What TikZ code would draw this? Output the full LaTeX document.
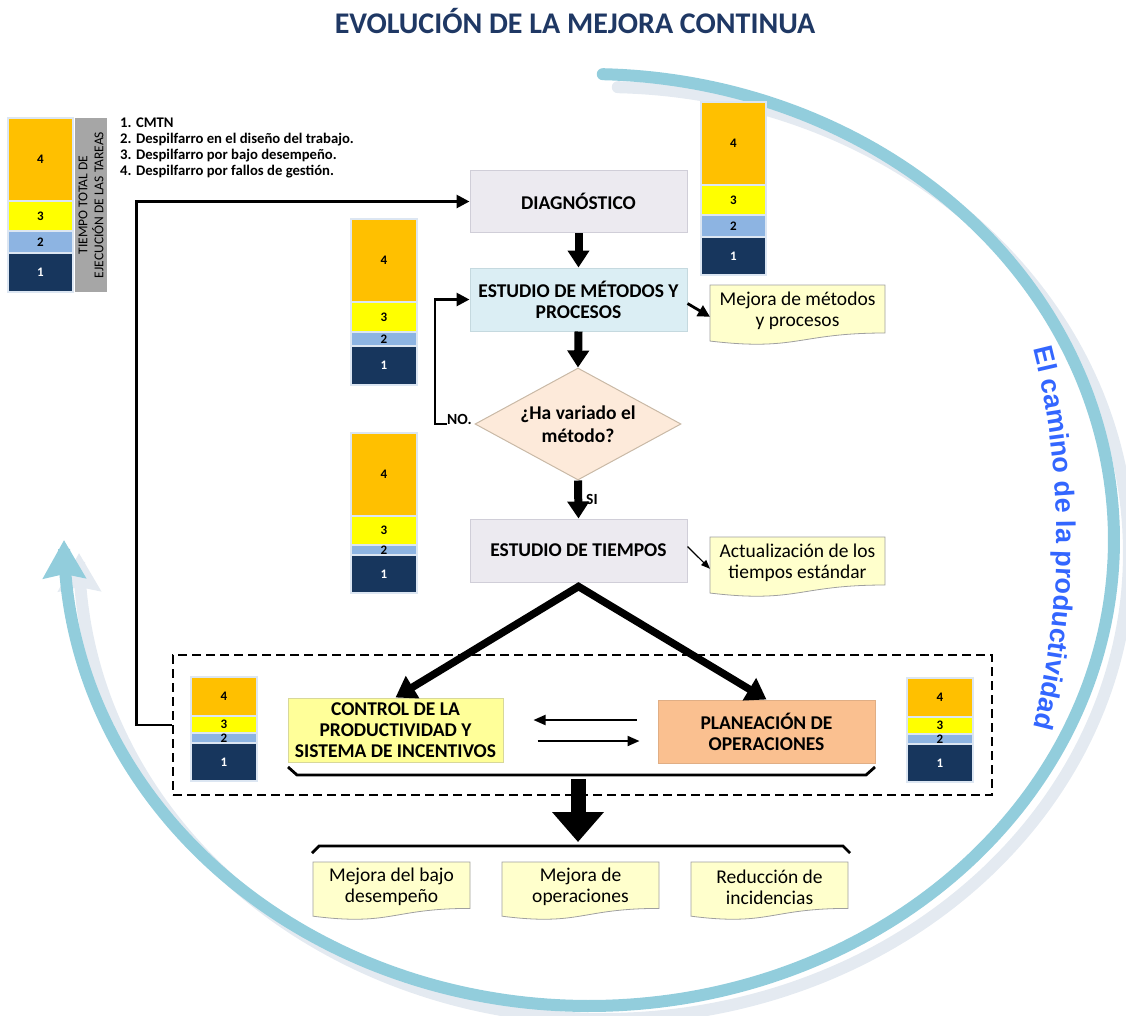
\documentclass[tikz,border=0pt]{standalone}
\usepackage{fontspec}
\setmainfont{Carlito}
\newfontfamily\arcfam{Liberation Sans}
\usetikzlibrary{arrows.meta,shapes.geometric,decorations.text,calc}

\definecolor{c4}{HTML}{FFC000}
\definecolor{c3}{HTML}{FFFF00}
\definecolor{c2}{HTML}{8DB4E2}
\definecolor{c1}{HTML}{17365D}
\definecolor{stkedge}{HTML}{DCE6F2}
\definecolor{titleblue}{HTML}{1F3864}
\definecolor{arcblue}{HTML}{92CDDC}
\definecolor{arcshadow}{HTML}{E4EAF1}
\definecolor{arctext}{HTML}{3366FF}
\definecolor{grayfill}{HTML}{ECEAF0}
\definecolor{grayedge}{HTML}{D0CED8}
\definecolor{metfill}{HTML}{DBEEF4}
\definecolor{metedge}{HTML}{C5D9DF}
\definecolor{diafill}{HTML}{FDEADA}
\definecolor{diaedge}{HTML}{C9B9A6}
\definecolor{ctrlfill}{HTML}{FFFF99}
\definecolor{ctrledge}{HTML}{D8D89A}
\definecolor{planfill}{HTML}{FAC090}
\definecolor{planedge}{HTML}{E0AE85}
\definecolor{docfill}{HTML}{FFFFCC}
\definecolor{docedge}{HTML}{A0A0A0}
\definecolor{barfill}{HTML}{A6A6A6}

\newcommand{\arcstyle}{\arcfam\bfseries\fontsize{27}{27}\selectfont}

% stack of four blocks: name, x1, x2, y-top, y(4|3), y(3|2), y(2|1), y-bottom
\newcommand{\stk}[8]{%
  \filldraw[fill=c4, draw=stkedge, line width=1.3pt] (#2,#4) rectangle (#3,#5);
  \filldraw[fill=c3, draw=stkedge, line width=1.3pt] (#2,#5) rectangle (#3,#6);
  \filldraw[fill=c2, draw=stkedge, line width=1.3pt] (#2,#6) rectangle (#3,#7);
  \filldraw[fill=c1, draw=stkedge, line width=1.3pt] (#2,#7) rectangle (#3,#8);
  \node[stknum] (#1-4) at ({(#2+#3)/2},{(#4+#5)/2}) {4};
  \node[stknum] (#1-3) at ({(#2+#3)/2},{(#5+#6)/2}) {3};
  \node[stknum] (#1-2) at ({(#2+#3)/2},{(#6+#7)/2}) {2};
  \node[stknum, text=white] (#1-1) at ({(#2+#3)/2},{(#7+#8)/2}) {1};
}

% document shape: name, x, y, w, h, text
\newcommand{\docshape}[6]{%
  \filldraw[docstyle] (#2,#3) -- ({#2+#4},#3) -- ({#2+#4},{#3+0.80*#5})
     .. controls ({#2+0.5*#4},{#3+0.80*#5}) and ({#2+0.5*#4},{#3+1.107*#5}) .. (#2,{#3+0.934*#5}) -- cycle;
  \coordinate (#1-w) at (#2,{#3+0.53*#5});
  \node[doctext] (#1) at ({#2+0.5*#4},{#3+0.43*#5}) {#6};
}

\begin{document}
\begin{tikzpicture}[x=1pt,y=-1pt,
  stknum/.style={font=\bfseries\fontsize{13}{13}\selectfont, inner sep=0pt},
  proc/.style={rectangle, inner sep=0pt, align=center, line width=1pt,
               font=\bfseries\fontsize{19.5}{21}\selectfont},
  doctext/.style={align=center, inner sep=0pt, font=\fontsize{19.5}{21}\selectfont},
  docstyle/.style={fill=docfill, draw=docedge, line width=0.8pt},
  blockarrow/.style={line width=8pt, -{Triangle[width=21pt,length=17pt]}},
  splitarrow/.style={line width=7.5pt, line join=miter,
               {Triangle[width=25pt,length=20pt]}-{Triangle[width=25pt,length=20pt]}},
  hugearrow/.style={line width=15pt, -{Triangle[width=50pt,length=30pt]}},
  thinline/.style={line width=2.8pt, -{Triangle[width=13pt,length=13pt]}},
  midarrow/.style={line width=2.8pt, -{Triangle[width=12pt,length=12pt]}},
  swaparrow/.style={line width=2pt, -{Triangle[width=10pt,length=12pt]}},
  fineline/.style={line width=1.2pt, -{Triangle[width=7pt,length=9pt]}},
  bracket/.style={line width=2.8pt, line join=miter},
  labelfont/.style={font=\bfseries\fontsize{15.5}{16}\selectfont, inner sep=0pt},
  legfont/.style={anchor=base west, inner sep=0pt, font=\bfseries\fontsize{14.7}{16}\selectfont}
]
\useasboundingbox (0,0) rectangle (1126,1015);

% ---- big circular arrow with its shadow ----
\draw[arcshadow, line width=12pt, line cap=round, -{Stealth[width=42pt,length=38pt,inset=4pt]}]
  plot[domain=-88.5:180, samples=240, variable=\t] ({604+525*cos(\t)},{553+466*sin(\t)});
\draw[arcblue, line width=12pt, line cap=round, -{Stealth[width=42pt,length=38pt,inset=4pt]}]
  plot[domain=-88.5:180, samples=240, variable=\t] ({589+525*cos(\t)},{540+466*sin(\t)});
\path[decorate, decoration={text along path, text={|\arcstyle|El camino de la productividad},
      text align=center, text color=arctext}]
  plot[domain=-24:24, samples=90, variable=\t] ({589+468*cos(\t)},{538+600*sin(\t)});

% ---- title ----
\node[anchor=base, inner sep=0pt, text=titleblue, font=\bfseries\fontsize{30}{30}\selectfont]
  (title) at (575,33.5) {EVOLUCIÓN DE LA MEJORA CONTINUA};

% ---- legend ----
\stk{leg}{8}{73}{118}{201}{231}{253}{292}
\fill[barfill] (75,118) rectangle (107,292);
\node[rotate=90, align=center, inner sep=0pt, font=\fontsize{13.5}{16}\selectfont]
  (bartext) at (91,205) {TIEMPO TOTAL DE\\EJECUCIÓN DE LAS TAREAS};
\node[legfont] (leg1) at (120,127) {1. CMTN};
\node[legfont] (leg2) at (120,143) {2. Despilfarro en el diseño del trabajo.};
\node[legfont] (leg3) at (120,159) {3. Despilfarro por bajo desempeño.};
\node[legfont] (leg4) at (120,175) {4. Despilfarro por fallos de gestión.};

% ---- stacks ----
\stk{stA}{701}{766}{102}{185}{215}{237}{275}
\stk{stB}{351}{417}{219}{302}{332}{346}{385}
\stk{stC}{351}{417}{433}{516}{545}{555}{593}
\stk{stD}{191}{257}{677}{716}{733}{743}{781}
\stk{stE}{907}{973}{678}{717}{734}{744}{782}

% ---- process nodes ----
\node[proc, fill=grayfill, draw=grayedge, minimum width=217pt, minimum height=62pt]
  (diag) at (578.5,201.5) {DIAGNÓSTICO};
\node[proc, fill=metfill, draw=metedge, minimum width=217pt, minimum height=63pt]
  (metodos) at (578.5,299.5) {ESTUDIO DE MÉTODOS Y\\PROCESOS};
\node[diamond, aspect=1.84, fill=diafill, draw=diaedge, line width=1pt, inner sep=0pt,
      minimum width=206pt, minimum height=112pt, align=center,
      font=\bfseries\fontsize{19.5}{23}\selectfont]
  (dia) at (578,424) {¿Ha variado el\\método?};
\node[proc, fill=grayfill, draw=grayedge, minimum width=217pt, minimum height=63pt]
  (tiempos) at (578.5,550.5) {ESTUDIO DE TIEMPOS};
\node[proc, fill=ctrlfill, draw=ctrledge, minimum width=215pt, minimum height=64pt]
  (control) at (395.5,730) {CONTROL DE LA\\PRODUCTIVIDAD Y\\SISTEMA DE INCENTIVOS};
\node[proc, fill=planfill, draw=planedge, minimum width=217pt, minimum height=63pt]
  (plan) at (766.5,731.5) {PLANEACIÓN DE\\OPERACIONES};

% ---- dashed frame ----
\node[draw, dashed, dash pattern=on 9pt off 5pt, line width=1.4pt, inner sep=0pt,
      minimum width=819pt, minimum height=140pt] (dbox) at (582.5,725) {};

% ---- documents ----
\docshape{docM}{710}{285}{175}{60}{Mejora de métodos\\y procesos}
\docshape{docT}{710}{537}{175}{60}{Actualización de los\\tiempos estándar}
\docshape{docA}{313}{862}{157}{58}{Mejora del bajo\\desempeño}
\docshape{docB}{502}{862}{157}{58}{Mejora de\\operaciones}
\docshape{docC}{691}{862}{157}{58}{Reducción de\\incidencias}

% ---- labels ----
\node[labelfont, anchor=base west] (no) at (447,424) {NO.};
\node[labelfont, anchor=base west] (si) at (586,504) {SI};

% ---- connectors ----
\draw[blockarrow] (diag.south) -- (metodos.north);
\draw[blockarrow] (metodos.south) -- (dia.north);
\draw[blockarrow] (dia.south) -- (tiempos.north);
\draw[splitarrow] (control.north) -- ([yshift=-4pt]tiempos.south) -- (plan.north);

\draw[thinline] (no.base west) -- ++(-12,0) |- (metodos.west);
\draw[thinline] (dbox.west) -- ++(-36,0) |- (diag.west);

\draw[midarrow] ([yshift=-4pt]metodos.east) -- (docM-w);
\draw[fineline] ([yshift=4pt]tiempos.east) -- (docT-w);

\draw[swaparrow, shorten <=21pt, shorten >=30pt] ([yshift=11.5pt]plan.west) -- ([yshift=11.5pt]plan.west -| control.east);
\draw[swaparrow, shorten <=34pt, shorten >=18pt] ([yshift=-9.5pt]plan.west -| control.east) -- ([yshift=-9.5pt]plan.west);

% ---- brackets and result arrow ----
\draw[bracket] (288,767) -- (297,775) -- (866,775) -- (875,767);
\coordinate (dn1) at (578,779);
\coordinate (dn2) at (578,842);
\draw[hugearrow] (dn1) -- (dn2);
\draw[bracket] (312,853) -- (319,846) -- (843,846) -- (850,853);

\end{tikzpicture}
\end{document}
